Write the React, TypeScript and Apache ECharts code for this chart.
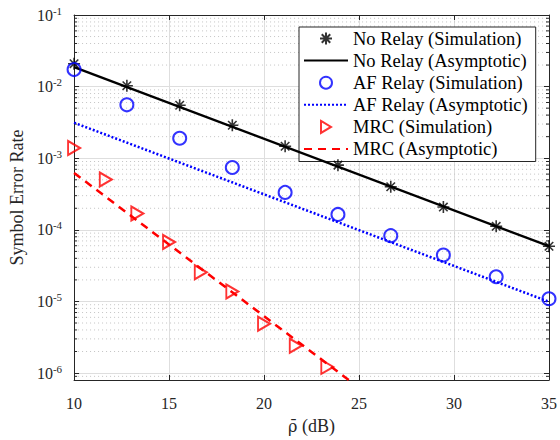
import React, { useEffect, useRef } from "react";
import * as echarts from "echarts";

const snrDb = [10, 12.78, 15.56, 18.33, 21.11, 23.89, 26.67, 29.44, 32.22, 35];
const noRelaySim = [0.0209, 0.0103, 0.0055, 0.00289, 0.00147, 0.0008, 0.0004, 0.000208, 0.000112, 0.000059];
const afRelaySim = [0.0173, 0.00557, 0.0019, 0.000743, 0.000333, 0.000164, 0.000083, 0.0000445, 0.0000221, 0.0000109];
const mrcSnrDb = [10, 11.67, 13.33, 15, 16.67, 18.33, 20, 21.67, 23.33];
const mrcSim = [0.00139, 0.000506, 0.000169, 0.0000676, 0.0000256, 0.0000138, 0.00000489, 0.0000024, 0.00000122];
const asymSnrDb = [10, 35];
const noRelayAsym = [0.0187, 0.0000591];
const afRelayAsym = [0.00313, 0.0000099];
const mrcAsymSnrDb = [10, 25];
const mrcAsym = [0.000623, 0.000000623];

const seriesNames = [
  "No Relay (Simulation)",
  "No Relay (Asymptotic)",
  "AF Relay (Simulation)",
  "AF Relay (Asymptotic)",
  "MRC (Simulation)",
  "MRC (Asymptotic)",
];

const X_MIN = 10;
const X_MAX = 35;
const X_INTERVAL = 5;
const Y_MIN = 8e-7;
const Y_MAX = 0.1;

const FONT = "'Liberation Serif', 'Times New Roman', serif";
const MATH_FONT = "'DejaVu Serif', serif";
const AXIS_COLOR = "#262626";
const CLEAR = "rgba(0,0,0,0)";

const zip = (xs: number[], ys: number[]) => xs.map((x, i) => [x, ys[i]]);

const minorVals: number[] = [];
for (let d = -7; d <= -2; d++) {
  for (let k = 2; k <= 9; k++) {
    const v = k * Math.pow(10, d);
    if (v > Y_MIN * 1.01 && v < Y_MAX) minorVals.push(v);
  }
}

const asteriskPath =
  "path://M6,0 L6,12 M0,6 L12,6 M1.76,1.76 L10.24,10.24 M1.76,10.24 L10.24,1.76";
const trianglePath = "path://M0,0 L10,6 L0,12 Z";

export default function App() {
  const ref = useRef<HTMLDivElement>(null);
  useEffect(() => {
    document.body.style.margin = "0";
    if (!ref.current) return;
    const chart = echarts.init(ref.current, null, { renderer: "svg" });
    const yLabelFormatter = (v: number) => {
      const e = Math.log10(v);
      if (Math.abs(e - Math.round(e)) > 1e-6) return "";
      return `{b|10}{s|${Math.round(e)}}`;
    };
    const option: any = {
      animation: false,
      backgroundColor: "#fff",
      grid: { left: 72, right: 8, top: 15, bottom: 49, containLabel: false },
      legend: {
        orient: "vertical",
        left: 299,
        top: 27,
        padding: [2, 8, 3, 4],
        itemGap: 3.1,
        itemWidth: 44,
        itemHeight: 12,
        backgroundColor: "#fff",
        borderColor: AXIS_COLOR,
        borderWidth: 1,
        borderRadius: 0,
        textStyle: { fontFamily: FONT, fontSize: 18.5, color: "#000", lineHeight: 16 },
        data: seriesNames,
      },
      xAxis: [
        {
          type: "value",
          min: X_MIN,
          max: X_MAX,
          interval: X_INTERVAL,
          position: "bottom",
          name: "{r|ρ̄}{t| (dB)}",
          nameLocation: "middle",
          nameGap: 37,
          nameTextStyle: {
            fontFamily: FONT,
            fontSize: 18,
            color: AXIS_COLOR,
            rich: {
              r: { fontFamily: MATH_FONT, fontSize: 16, color: AXIS_COLOR },
              t: { fontFamily: FONT, fontSize: 18, color: AXIS_COLOR },
            },
          },
          axisLine: { show: true, onZero: false, lineStyle: { color: AXIS_COLOR, width: 1 } },
          axisTick: { show: true, inside: true, length: 5, lineStyle: { color: AXIS_COLOR } },
          axisLabel: { fontFamily: FONT, fontSize: 16, color: AXIS_COLOR, margin: 15 },
          splitLine: { show: true, lineStyle: { color: "#dedede", width: 1 } },
        },
        {
          type: "value",
          min: X_MIN,
          max: X_MAX,
          interval: X_INTERVAL,
          position: "top",
          axisLine: { show: true, onZero: false, lineStyle: { color: AXIS_COLOR, width: 1 } },
          axisTick: { show: true, inside: true, length: 5, lineStyle: { color: AXIS_COLOR } },
          axisLabel: { show: false },
          splitLine: { show: false },
        },
      ],
      yAxis: [
        {
          type: "log",
          logBase: 10,
          min: Y_MIN,
          max: Y_MAX,
          position: "left",
          name: "Symbol Error Rate",
          nameLocation: "middle",
          nameGap: 45,
          nameTextStyle: { fontFamily: FONT, fontSize: 18, color: AXIS_COLOR },
          axisLine: { show: true, onZero: false, lineStyle: { color: AXIS_COLOR, width: 1 } },
          axisTick: { show: true, inside: true, length: 5, lineStyle: { color: AXIS_COLOR } },
          axisLabel: {
            margin: 12,
            formatter: yLabelFormatter,
            rich: {
              b: { fontFamily: FONT, fontSize: 16, color: AXIS_COLOR },
              s: { fontFamily: FONT, fontSize: 11, color: AXIS_COLOR, padding: [0, 0, 9, 0] },
            },
          },
          splitLine: { show: true, lineStyle: { color: "#dedede", width: 1 } },
        },
        {
          type: "log",
          logBase: 10,
          min: Y_MIN,
          max: Y_MAX,
          position: "right",
          axisLine: { show: true, onZero: false, lineStyle: { color: AXIS_COLOR, width: 1 } },
          axisTick: { show: true, inside: true, length: 5, lineStyle: { color: AXIS_COLOR } },
          axisLabel: { show: false },
          splitLine: { show: false },
        },
      ],
      series: [
        {
          type: "custom",
          name: "minor-grid",
          silent: true,
          z: 0,
          xAxisIndex: 0,
          yAxisIndex: 0,
          data: minorVals.map((v) => [X_MIN, v]),
          renderItem: (_params: any, api: any) => {
            const v = api.value(1);
            const p1 = api.coord([X_MIN, v]);
            const p2 = api.coord([X_MAX, v]);
            return {
              type: "group",
              children: [
                {
                  type: "line",
                  shape: { x1: p1[0], y1: p1[1], x2: p2[0], y2: p2[1] },
                  style: { stroke: "#c4c4c4", lineWidth: 1, lineDash: [1, 3] },
                },
                {
                  type: "line",
                  shape: { x1: p1[0], y1: p1[1], x2: p1[0] + 3, y2: p1[1] },
                  style: { stroke: AXIS_COLOR, lineWidth: 1 },
                },
                {
                  type: "line",
                  shape: { x1: p2[0] - 3, y1: p2[1], x2: p2[0], y2: p2[1] },
                  style: { stroke: AXIS_COLOR, lineWidth: 1 },
                },
              ],
            };
          },
        },
        {
          name: seriesNames[0],
          type: "scatter",
          data: zip(snrDb, noRelaySim),
          symbol: asteriskPath,
          symbolSize: 12,
          z: 5,
          itemStyle: { color: "none", borderColor: "#000", borderWidth: 1.6 },
        },
        {
          name: seriesNames[1],
          type: "line",
          data: zip(asymSnrDb, noRelayAsym),
          symbol: "none",
          z: 4,
          lineStyle: { color: "#000", width: 2.3, type: "solid" },
          itemStyle: { color: CLEAR, borderColor: CLEAR, borderWidth: 0 },
        },
        {
          name: seriesNames[2],
          type: "scatter",
          data: zip(snrDb, afRelaySim),
          symbol: "circle",
          symbolSize: 13,
          z: 5,
          itemStyle: { color: "none", borderColor: "#0000ff", borderWidth: 2 },
        },
        {
          name: seriesNames[3],
          type: "line",
          data: zip(asymSnrDb, afRelayAsym),
          symbol: "none",
          z: 4,
          lineStyle: { color: "#0000ff", width: 2.5, type: [2, 2] },
          itemStyle: { color: CLEAR, borderColor: CLEAR, borderWidth: 0 },
        },
        {
          name: seriesNames[4],
          type: "scatter",
          data: zip(mrcSnrDb, mrcSim),
          symbol: trianglePath,
          symbolSize: [12, 14],
          z: 5,
          itemStyle: { color: "none", borderColor: "#ff0000", borderWidth: 2 },
        },
        {
          name: seriesNames[5],
          type: "line",
          data: zip(mrcAsymSnrDb, mrcAsym),
          symbol: "none",
          z: 4,
          clip: true,
          lineStyle: { color: "#ff0000", width: 2.5, type: [8, 6] },
          itemStyle: { color: CLEAR, borderColor: CLEAR, borderWidth: 0 },
        },
      ],
    };
    chart.setOption(option);
    return () => chart.dispose();
  }, []);
  return <div ref={ref} style={{ width: 560, height: 440 }} />;
}
